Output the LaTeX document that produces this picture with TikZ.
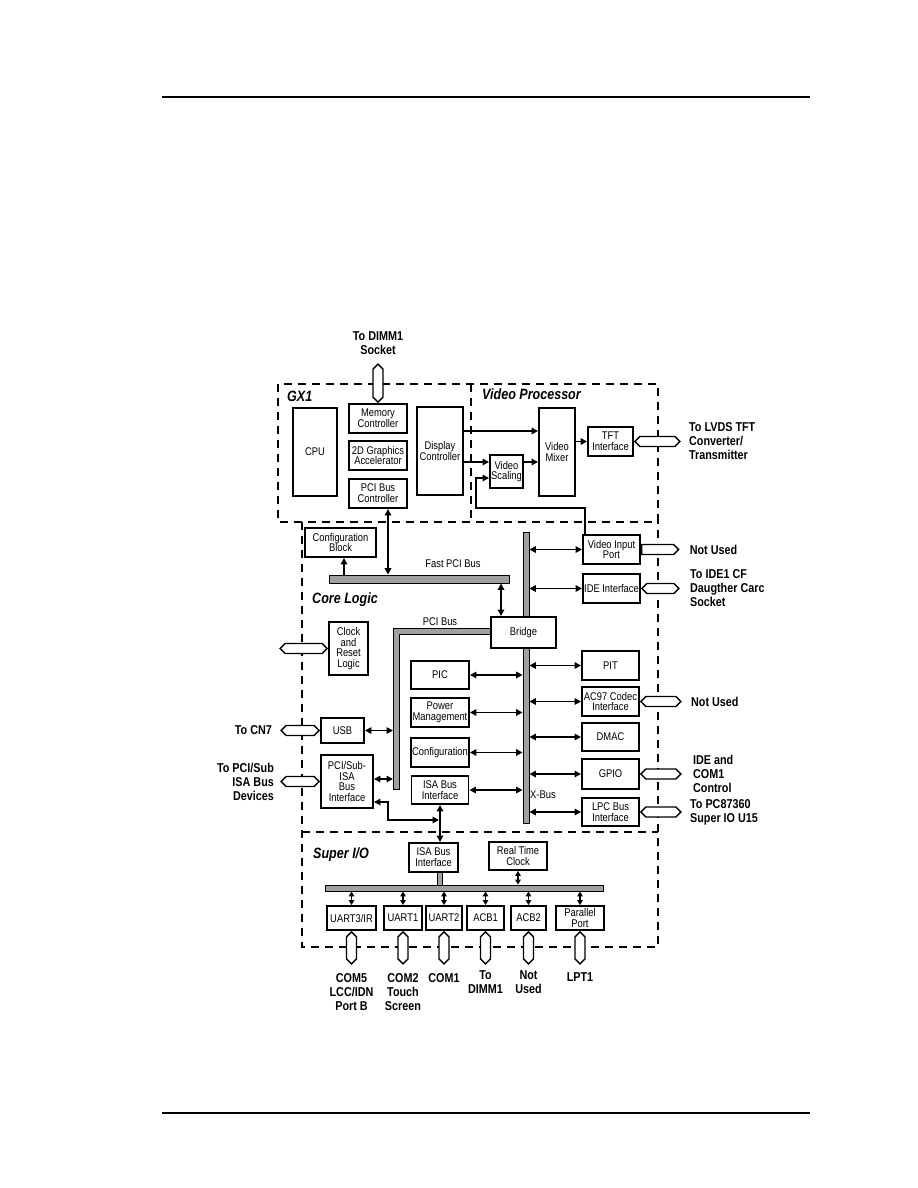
\documentclass[tikz,border=0pt]{standalone}
\usepackage{fontspec}
\setmainfont[FakeStretch=0.84]{Liberation Sans}
\usetikzlibrary{arrows.meta,positioning,shapes.symbols}
\newcommand\blkfont{\fontsize{11.2}{10.8}\selectfont}
\newcommand\lblfont{\fontsize{12.9}{14}\selectfont\bfseries}
\newcommand\ttlfont{\fontsize{15}{16}\selectfont\bfseries\itshape}
\definecolor{busgray}{HTML}{A0A0A0}
\tikzset{blk/.style={draw,fill=white,line width=1.9bp,align=center,font=\blkfont,inner sep=1bp}, wh/.style 2 args={minimum width=#1bp,minimum height=#2bp}, link/.style={line width=1.7bp,>={Triangle[length=6.5bp,width=6.5bp]}}, busbar/.style={draw,fill=busgray,line width=0.9bp,inner sep=0pt}, hbus/.style={signal,signal to=east and west,draw,fill=white,line width=1.4bp,inner sep=0pt,minimum height=10bp}, vbus/.style={signal,signal to=north and south,draw,fill=white,line width=1.4bp,inner sep=0pt,minimum width=10bp}, lbl/.style={font=\lblfont,inner sep=1bp}, area/.style={font=\ttlfont,anchor=west,inner sep=0pt}, frame/.style={line width=1.5bp,dash pattern=on 8bp off 6bp}}

\begin{document}
\begin{tikzpicture}[x=1bp,y=-1bp]
\useasboundingbox (0,0) rectangle (918,1188);
\draw[line width=1.4bp] (162,97) -- (810,97);
\draw[line width=1.4bp] (162,1113) -- (810,1113);
% regions
\draw[frame] (278,384) rectangle (658,522);
\draw[frame] (471,384) -- (471,522);
\draw[frame] (302,522) -- (302,947) -- (658,947) -- (658,522);
\draw[frame] (302,832) -- (658,832);
\node[area] (gx1) at (287,396) {GX1};
\node[area] (vproc) at (482,394) {Video Processor};
\node[area] (core) at (312,600) {Core Logic};
\node[area] (sio) at (313,855) {Super I/O};
% buses
\node[busbar,wh={6}{291}] (xbus) at (526,677.5) {};
\node[busbar,wh={180}{8}] (fastpci) at (419,579) {};
\draw[busbar] (393,789) |- (491,628) -- (491,634) -| (399,789) -- cycle;
\coordinate (pcib) at (393,708);
\node[busbar,wh={5}{15}] (siostem) at (439.5,879) {};
\node[busbar,wh={278}{6}] (siobus) at (464,888) {};
\node[font=\blkfont] (fastpcitxt) at (453,564) {Fast PCI Bus};
\node[font=\blkfont] (pcibustxt) at (440,622) {PCI Bus};
\node[font=\blkfont] (xbustxt) at (543,795) {X-Bus};
% GX1
\node[blk,wh={44}{88}] (cpu) at (315,452) {CPU};
\node[blk,wh={58}{29}] (memctl) at (378,418.5) {Memory\\Controller};
\node[blk,wh={58}{29}] (gfx) at (378,455.5) {2D Graphics\\Accelerator};
\node[blk,wh={58}{29}] (pcictl) at (378,493.5) {PCI Bus\\Controller};
\node[blk,wh={46}{88}] (dispctl) at (440,451) {Display\\Controller};
% video processor
\node[blk,wh={33}{33}] (vscale) at (506.5,471.5) {Video\\Scaling};
\node[blk,wh={36}{88}] (vmix) at (557,452) {Video\\Mixer};
\node[blk,wh={45}{29}] (tft) at (610.5,441.5) {TFT\\Interface};
% core logic
\node[blk,wh={71}{29}] (cfgblk) at (340.5,542.5) {Configuration\\Block};
\node[blk,wh={65}{31}] (bridge) at (523.5,632.5) {Bridge};
\node[blk,wh={39}{53}] (clock) at (348.5,648.5) {Clock\\and\\Reset\\Logic};
\node[blk,wh={58}{28}] (pic) at (440,675) {PIC};
\node[blk,wh={58}{29}] (pwr) at (440,712.5) {Power\\Management};
\node[blk,wh={58}{29}] (cfg) at (440,752.5) {Configuration};
\node[blk,wh={57}{28}] (isacore) at (440,790) {ISA Bus\\Interface};
\node[blk,wh={43}{25}] (usb) at (342.5,730.5) {USB};
\node[blk,wh={52}{53}] (pcisub) at (347,781.5) {PCI/Sub-\\ISA\\Bus\\Interface};
\node[blk,wh={57}{29}] (vip) at (611.5,549.5) {Video Input\\Port};
\node[blk,wh={57}{29}] (ide) at (611.5,588.5) {IDE Interface};
\node[blk,wh={57}{29}] (pit) at (610.5,665.5) {PIT};
\node[blk,wh={57}{29}] (ac97) at (610.5,701.5) {AC97 Codec\\Interface};
\node[blk,wh={57}{28}] (dmac) at (610.5,737) {DMAC};
\node[blk,wh={57}{30}] (gpio) at (610.5,774) {GPIO};
\node[blk,wh={57}{28}] (lpc) at (610.5,812) {LPC Bus\\Interface};
% super I/O
\node[blk,wh={49}{29}] (isasio) at (433.5,857.5) {ISA Bus\\Interface};
\node[blk,wh={58}{28}] (rtc) at (518,856) {Real Time\\Clock};
\node[blk,wh={49}{24}] (uart3) at (351.5,918) {UART3/IR};
\node[blk,wh={38}{24}] (uart1) at (403,918) {UART1};
\node[blk,wh={36}{24}] (uart2) at (444,918) {UART2};
\node[blk,wh={37}{24}] (acb1) at (485.5,918) {ACB1};
\node[blk,wh={35}{24}] (acb2) at (528.5,918) {ACB2};
\node[blk,wh={48}{24}] (par) at (580,918) {Parallel\\Port};
% links
\draw[link,->] ([yshift=20bp]dispctl.east) -- ([yshift=20bp]dispctl.east -| vmix.west);
\draw[link,->] ([yshift=-11bp]dispctl.east) -- ([yshift=-11bp]dispctl.east -| vscale.west);
\draw[link,->] ([yshift=9.5bp]vscale.east) -- ([yshift=9.5bp]vscale.east -| vmix.west);
\draw[link,->] (vmix.east |- tft.west) -- (tft.west);
\draw[link,->] ([xshift=3bp]vip.north west) -- ++(0,-26) -| ([xshift=-13bp,yshift=-6.5bp]vscale.west) -- ([yshift=-6.5bp]vscale.west);
\draw[link,<->] ([xshift=10bp]pcictl.south) -- ([xshift=10bp]pcictl.south |- fastpci.north);
\draw[link,->] ([xshift=3.5bp]cfgblk.south |- fastpci.north) -- ([xshift=3.5bp]cfgblk.south);
\draw[link,<->] ([xshift=-22.5bp]bridge.north |- fastpci.south) -- ([xshift=-22.5bp]bridge.north);
\draw[link,<->] (pic.east) -- (pic.east -| xbus.west);
\draw[link,<->] (pwr.east) -- (pwr.east -| xbus.west);
\draw[link,<->] (cfg.east) -- (cfg.east -| xbus.west);
\draw[link,<->] (isacore.east) -- (isacore.east -| xbus.west);
\draw[link,<->] (vip.west -| xbus.east) -- (vip.west);
\draw[link,<->] (ide.west -| xbus.east) -- (ide.west);
\draw[link,<->] (pit.west -| xbus.east) -- (pit.west);
\draw[link,<->] (ac97.west -| xbus.east) -- (ac97.west);
\draw[link,<->] (dmac.west -| xbus.east) -- (dmac.west);
\draw[link,<->] (gpio.west -| xbus.east) -- (gpio.west);
\draw[link,<->] (lpc.west -| xbus.east) -- (lpc.west);
\draw[link,<->] (usb.east) -- (usb.east -| pcib);
\draw[link,<->] ([yshift=2.5bp]pcisub.east) -- ([yshift=2.5bp]pcisub.east -| pcib);
\draw[link,<->] (isacore.south) -- (isacore.south |- isasio.north);
\coordinate (isajoin) at ([xshift=-1bp]isacore.south |- 0,820);
\draw[link,<->] ([yshift=-20.5bp]pcisub.east) -- ++(14,0) |- (isajoin);
\draw[link,<->,>={Triangle[length=5bp,width=5.5bp]}] (rtc.south) -- (rtc.south |- siobus.north);
\draw[link,<->,>={Triangle[length=5bp,width=5.5bp]}] (uart3.north |- siobus.south) -- (uart3.north);
\draw[link,<->,>={Triangle[length=5bp,width=5.5bp]}] (uart1.north |- siobus.south) -- (uart1.north);
\draw[link,<->,>={Triangle[length=5bp,width=5.5bp]}] (uart2.north |- siobus.south) -- (uart2.north);
\draw[link,<->,>={Triangle[length=5bp,width=5.5bp]}] (acb1.north |- siobus.south) -- (acb1.north);
\draw[link,<->,>={Triangle[length=5bp,width=5.5bp]}] (acb2.north |- siobus.south) -- (acb2.north);
\draw[link,<->,>={Triangle[length=5bp,width=5.5bp]}] (par.north |- siobus.south) -- (par.north);
% outside connections
\node[vbus,minimum height=28bp,above=0bp of memctl] (dimmbus) {};
\node[hbus,minimum width=45bp,right=0bp of tft] (tftbus) {};
\node[hbus,minimum width=47bp,left=0bp of clock] (clockbus) {};
\node[hbus,minimum width=38bp,left=0bp of usb] (usbbus) {};
\node[hbus,minimum width=38bp,left=0bp of pcisub] (pcisubbus) {};
\node[hbus,signal to=east,minimum width=37bp,right=0bp of vip] (vipbus) {};
\node[hbus,minimum width=37bp,right=0bp of ide] (idebus) {};
\node[hbus,minimum width=40bp,right=0bp of ac97] (ac97bus) {};
\node[hbus,minimum width=40bp,right=0bp of gpio] (gpiobus) {};
\node[hbus,minimum width=40bp,right=0bp of lpc] (lpcbus) {};
\node[vbus,minimum height=22bp,below=0bp of uart3] (u3bus) {};
\node[vbus,minimum height=22bp,below=0bp of uart1] (u1bus) {};
\node[vbus,minimum height=22bp,below=0bp of uart2] (u2bus) {};
\node[vbus,minimum height=22bp,below=0bp of acb1] (a1bus) {};
\node[vbus,minimum height=22bp,below=0bp of acb2] (a2bus) {};
\node[vbus,minimum height=22bp,below=0bp of par] (ppbus) {};
% labels
\node[lbl,above=7bp of dimmbus,align=center] (dimmtxt) {To DIMM1\\Socket};
\node[lbl,right=7bp of tftbus,align=left] (tfttxt) {To LVDS TFT\\Converter/\\Transmitter};
\node[lbl,right=9bp of vipbus] (viptxt) {Not Used};
\node[lbl,right=9bp of idebus,align=left] (idetxt) {To IDE1 CF\\Daugther Carc\\Socket};
\node[lbl,right=8bp of ac97bus] (ac97txt) {Not Used};
\node[lbl,right=10bp of gpiobus,align=left] (gpiotxt) {IDE and\\COM1\\Control};
\node[lbl,right=7bp of lpcbus,align=left] (lpctxt) {To PC87360\\Super IO U15};
\node[lbl,left=7bp of usbbus] (usbtxt) {To CN7};
\node[lbl,left=5bp of pcisubbus,align=right] (pcisubtxt) {To PCI/Sub\\ISA Bus\\Devices};
\node[lbl,below=7bp of u3bus,align=center] (u3txt) {COM5\\LCC/IDN\\Port B};
\node[lbl,below=7bp of u1bus,align=center] (u1txt) {COM2\\Touch\\Screen};
\node[lbl,below=7bp of u2bus] (u2txt) {COM1};
\node[lbl,below=5bp of a1bus,align=center] (a1txt) {To\\DIMM1};
\node[lbl,below=5bp of a2bus,align=center] (a2txt) {Not\\Used};
\node[lbl,below=7bp of ppbus] (pptxt) {LPT1};
\end{tikzpicture}
\end{document}
